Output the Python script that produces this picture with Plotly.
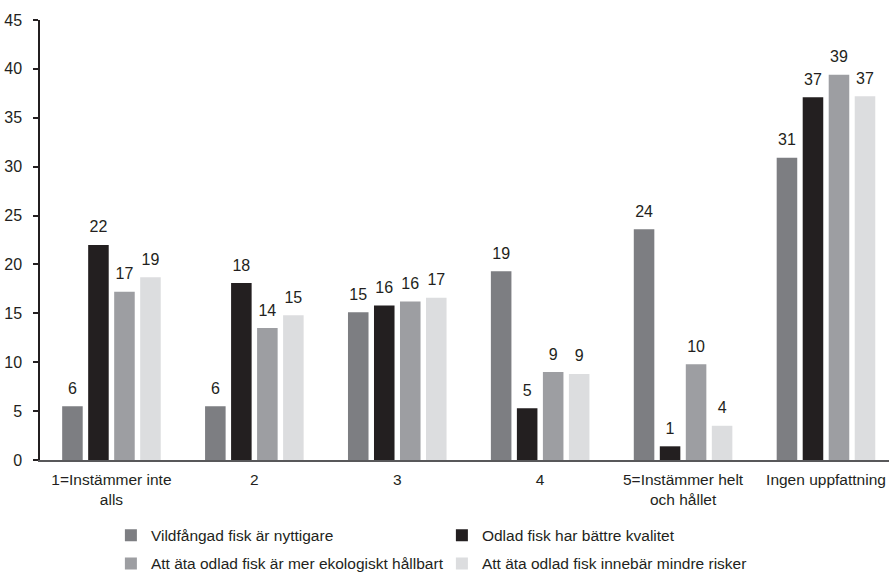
import plotly.graph_objects as go

# Survey response categories (x axis)
categories = ["1=Instämmer inte<br>alls", "2", "3", "4",
              "5=Instämmer helt<br>och hållet", "Ingen uppfattning"]

# Share of respondents (%) per statement
series_names = [
    "Vildfångad fisk är nyttigare",
    "Odlad fisk har bättre kvalitet",
    "Att äta odlad fisk är mer ekologiskt hållbart",
    "Att äta odlad fisk innebär mindre risker",
]
vildfangad = [5.5, 5.5, 15.1, 19.3, 23.6, 30.9]
odlad_kvalitet = [22.0, 18.1, 15.8, 5.3, 1.4, 37.1]
ekologiskt = [17.2, 13.5, 16.2, 9.0, 9.8, 39.4]
mindre_risker = [18.7, 14.8, 16.6, 8.8, 3.5, 37.2]

y_ticks = [0, 5, 10, 15, 20, 25, 30, 35, 40, 45]

series_values = [vildfangad, odlad_kvalitet, ekologiskt, mindre_risker]
colors = ["#7d7e82", "#231f20", "#9d9ea2", "#dcdddf"]
legend_ids = ["legend", "legend", "legend2", "legend2"]

TEXT = "#231f20"
FONT = "Arial, Liberation Sans, sans-serif"

fig = go.Figure()

for i, (name, vals, col, lg) in enumerate(zip(series_names, series_values, colors, legend_ids)):
    fig.add_trace(go.Bar(
        x=categories, y=vals, name=name,
        marker=dict(color=col, line=dict(width=0)),
        offsetgroup=str(i), legend=lg,
        hoverinfo="skip",
    ))

# Rounded value labels floating above each bar
for i, vals in enumerate(series_values):
    fig.add_trace(go.Scatter(
        x=categories, y=vals, mode="markers+text",
        texttemplate="%{y:.0f}",
        textposition="top center",
        textfont=dict(family=FONT, size=16, color=TEXT),
        marker=dict(size=12, color="rgba(0,0,0,0)"),
        offsetgroup=str(i), showlegend=False, hoverinfo="skip",
        cliponaxis=False,
    ))

legend_common = dict(
    orientation="h", xanchor="left", yanchor="middle",
    bgcolor="rgba(0,0,0,0)", borderwidth=0,
    font=dict(family=FONT, size=15.5, color=TEXT),
    itemwidth=30, entrywidth=286, entrywidthmode="pixels",
    itemclick=False, itemdoubleclick=False,
)

fig.update_layout(
    width=889, height=574,
    margin=dict(l=40, r=0, t=20, b=114, autoexpand=False),
    paper_bgcolor="white", plot_bgcolor="white",
    barmode="group", scattermode="group",
    bargap=0.272, bargroupgap=0.21,
    font=dict(family=FONT, size=16, color=TEXT),
    showlegend=True,
    legend=dict(x=0.0835, y=-0.172, **legend_common),
    legend2=dict(x=0.0835, y=-0.236, **legend_common),
    xaxis=dict(
        range=[-0.5, 5.441],
        showline=True, linecolor="#58585a", linewidth=2,
        ticks="", showgrid=False, zeroline=False,
        ticklabelstandoff=4,
        tickfont=dict(family=FONT, size=15.5, color=TEXT),
    ),
    yaxis=dict(
        range=[0, 45], tickvals=y_ticks,
        showline=True, linecolor=TEXT, linewidth=1.5,
        ticks="outside", ticklen=5, tickwidth=1.5, tickcolor=TEXT,
        ticklabelstandoff=8,
        showgrid=False, zeroline=False,
        tickfont=dict(family=FONT, size=16, color=TEXT),
    ),
)

fig.write_html("out.html")
